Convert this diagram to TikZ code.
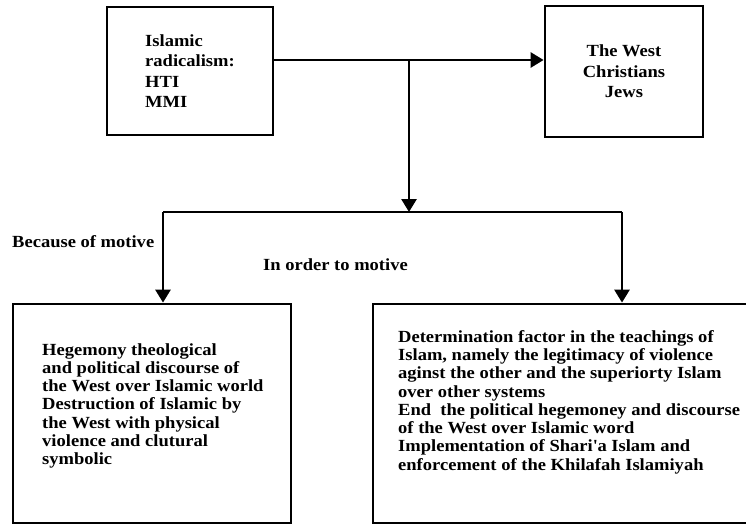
\documentclass[tikz,border=0pt]{standalone}
\usepackage{fontspec}
\setmainfont{Liberation Serif}[FakeStretch=1.09]
\usetikzlibrary{positioning,arrows.meta}

\begin{document}
\begin{tikzpicture}[
  x=1pt, y=-1pt,
  bx/.style={draw, line width=2.8pt, inner sep=0pt},
  txt/.style={align=left, inner sep=0pt, font=\fontsize{17}{18.3}\selectfont\bfseries},
  hd/.style={inner sep=0pt, font=\fontsize{17}{20.5}\selectfont\bfseries},
  lab/.style={inner sep=0pt, font=\fontsize{17}{20}\selectfont\bfseries},
  dr/.style={-{Triangle[length=13pt,width=15pt]}, line width=2.8pt},
  ln/.style={line width=2.8pt}]

\useasboundingbox (0,0) rectangle (746,524);

% ---- the two sides --------------------------------------------------------
\node[bx, hd, align=left, minimum width=166pt, minimum height=128pt] (rad) at (190,71) {Islamic\\ radicalism:\\ HTI\\ MMI};
\node[bx, hd, align=center, minimum width=158pt, minimum height=131pt] (west) at (624,71.5) {The West\\ Christians\\ Jews};

% ---- the two motives ------------------------------------------------------
\node[bx, minimum width=278pt, minimum height=219pt] (cause) at (152,413.5) {};
\node[txt, anchor=north west] (causetxt) at (42,343) {Hegemony theological\\ and political discourse of\\ the West over Islamic world\\ Destruction of Islamic by\\ the West with physical\\ violence and clutural\\ symbolic};
\node[bx, minimum width=427pt, minimum height=219pt] (order) at (586.5,413.5) {};
\node[txt, anchor=north west] (ordertxt) at (398,330) {Determination factor in the teachings of\\ Islam, namely the legitimacy of violence\\ aginst the other and the superiorty Islam\\ over other systems\\ End\ \ the political hegemoney and discourse\\ of the West over Islamic word\\ Implementation of Shari\textquotesingle a Islam and\\ enforcement of the Khilafah Islamiyah};

\node[lab, anchor=west] (because) at (12,242) {Because of motive};
\node[lab, anchor=west] (inorder) at (263,265) {In order to motive};

% ---- connectors -----------------------------------------------------------
\coordinate (j) at (409,60);
\coordinate (split) at (409,212);
\coordinate (l) at (163,212);
\coordinate (r) at (622,212);
\draw[ln] (rad.east |- j) -- (j);
\draw[dr] (j) -- (west.west |- j);
\draw[dr] (j) -- (split);
\draw[ln] (l) -- (r);
\draw[dr] (l) -- (l |- cause.north);
\draw[dr] (r) -- (r |- order.north);

\end{tikzpicture}
\end{document}
